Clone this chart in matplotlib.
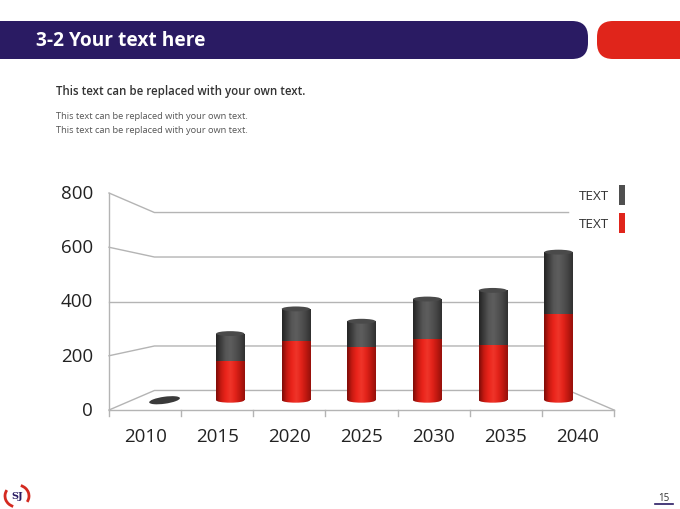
import matplotlib
matplotlib.use('Agg')
import matplotlib.pyplot as plt
import matplotlib.transforms as mtransforms
import numpy as np
from matplotlib.colors import LinearSegmentedColormap
from matplotlib.patches import Arc, Ellipse, FancyBboxPatch, Rectangle

plt.rcParams['font.family'] = ['Open Sans', 'DejaVu Sans']

years = ['2010', '2015', '2020', '2025', '2030', '2035', '2040']
red_vals = [0, 160, 240, 215, 250, 225, 350]
gray_vals = [0, 110, 130, 105, 160, 220, 250]
y_ticks = [0, 200, 400, 600, 800]
legend_labels = ['TEXT', 'TEXT']

NAVY = '#2a1b63'
RED = '#e0251b'
GRID = '#b4b4b4'

# one-point perspective: front plane scale 1, bars and back wall shrink toward VP
VP = (3.0, 400.0)
S_BACK = 0.82
S_BAR = 0.91


def proj(x, v, s):
    return VP[0] + s * (x - VP[0]), VP[1] + s * (v - VP[1])


red_cmap = LinearSegmentedColormap.from_list(
    'cyl_red', ['#7e0c08', '#c81a12', '#ea241b', '#f0352a', '#e2231a', '#c01810', '#96110b'])
gray_cmap = LinearSegmentedColormap.from_list(
    'cyl_gray', ['#242424', '#3d3d3d', '#565656', '#5e5e5e', '#525252', '#444444', '#303030'])
grad = np.linspace(0, 1, 64).reshape(1, -1)

fig = plt.figure(figsize=(6.8, 5.1), dpi=100)

# slide decoration in pixel coordinates
bg = fig.add_axes([0, 0, 1, 1])
bg.set_xlim(0, 680)
bg.set_ylim(510, 0)
bg.axis('off')
bg.add_patch(FancyBboxPatch((-40, 22), 628, 38, boxstyle='round,pad=0,rounding_size=16',
                            fc=NAVY, ec='none'))
bg.add_patch(FancyBboxPatch((597, 22), 120, 38, boxstyle='round,pad=0,rounding_size=16',
                            fc=RED, ec='none'))
bg.text(36, 41, '3-2 Your text here', color='white', fontsize=13.8, fontweight='bold',
        va='center', ha='left')
bg.text(56, 92, 'This text can be replaced with your own text.', color='#333333',
        fontsize=8.3, fontweight='semibold', va='center')
bg.text(56, 116.5, 'This text can be replaced with your own text.', color='#555555',
        fontsize=6.7, va='center')
bg.text(56, 131, 'This text can be replaced with your own text.', color='#555555',
        fontsize=6.7, va='center')
# footer
bg.add_patch(Arc((17, 497), 24, 22, theta1=110, theta2=210, color='#d42a20', lw=2))
bg.add_patch(Arc((17, 497), 24, 22, theta1=290, theta2=30, color='#d42a20', lw=2))
bg.text(17, 497, 'SJ', color=NAVY, fontsize=7, fontweight='bold', family='DejaVu Serif',
        ha='center', va='center')
bg.text(664, 499, '15', color='#333333', fontsize=7, ha='center', va='center')
bg.plot([655, 673], [505, 505], color=NAVY, lw=1.2)

# chart axes: data coords of the front plane
ax = fig.add_axes([109 / 680, 99 / 510, 505 / 680, 217 / 510])
ax.set_xlim(-0.5, 6.5)
ax.set_ylim(0, 800)
ax.axis('off')

x_lo, x_hi = -0.5, len(years) - 0.5
for v in y_ticks:
    bx0, by = proj(x_lo, v, S_BACK)
    bx1, _ = proj(x_hi, v, S_BACK)
    ax.plot([x_lo, bx0, bx1], [v, by, by], color=GRID, lw=1, clip_on=False, zorder=1)
    ax.text(x_lo - 0.22, v, str(v), ha='right', va='center', fontsize=13.5, color='#222222')
ax.plot([x_lo, x_lo], [0, 800], color=GRID, lw=1, clip_on=False, zorder=1)
ax.plot([x_lo, x_hi], [0, 0], color=GRID, lw=1, clip_on=False, zorder=1)
rx, ry = proj(x_hi, 0, S_BACK)
ax.plot([x_hi, rx], [0, ry], color=GRID, lw=1, clip_on=False, zorder=1)
for k in range(len(years) + 1):
    ax.plot([x_lo + k, x_lo + k], [0, -22], color=GRID, lw=1, clip_on=False, zorder=1)
for i, yr in enumerate(years):
    ax.text(i, -97, yr, ha='center', va='center', fontsize=13.5, color='#222222')

# cylinders
bar_w = 0.43 * S_BAR
ell_h = 18
base = proj(0, 0, S_BAR)[1]
centers = [proj(i, 0, S_BAR)[0] for i in range(len(years))]
red_h = [S_BAR * v for v in red_vals]
gray_h = [S_BAR * v for v in gray_vals]
red_bars = ax.bar(centers, red_h, bar_w, bottom=base, color='none', zorder=3)
gray_bars = ax.bar(centers, gray_h, bar_w, bottom=[base + h for h in red_h], color='none',
                   zorder=3)


def fill_gradient(patch, cmap, x0, x1, y0, y1, z):
    im = ax.imshow(grad, cmap=cmap, extent=[x0, x1, y0, y1], aspect='auto',
                   interpolation='bicubic', zorder=z)
    im.set_clip_path(patch)


for i, cx in enumerate(centers):
    total = red_h[i] + gray_h[i]
    if total == 0:
        tr = mtransforms.ScaledTranslation(cx, base, ax.transData)
        ax.add_patch(Ellipse((0, 0), 31, 7, angle=8, transform=tr, fc='#3a3a3a', ec='none',
                             zorder=3))
        continue
    x0, x1 = cx - bar_w / 2, cx + bar_w / 2
    bottom_ell = Ellipse((cx, base), bar_w, ell_h, fc='none', ec='none')
    ax.add_patch(bottom_ell)
    fill_gradient(bottom_ell, red_cmap, x0, x1, base - ell_h, base + ell_h, 2)
    rb = red_bars[i]
    fill_gradient(rb, red_cmap, x0, x1, base, base + red_h[i], 3)
    gb = gray_bars[i]
    fill_gradient(gb, gray_cmap, x0, x1, base + red_h[i], base + total, 3)
    ax.add_patch(Ellipse((cx, base + total), bar_w, ell_h, fc='#4a4a4a', ec='none', zorder=4))

ax.set_xlim(-0.5, 6.5)
ax.set_ylim(0, 800)

# legend
handles = [Rectangle((0, 0), 1, 1, fc='#4f4f4f', ec='none'),
           Rectangle((0, 0), 1, 1, fc='#e0251b', ec='none')]
fig.legend(handles, legend_labels, loc='upper right', bbox_to_anchor=(637 / 680, 1 - 174 / 510),
           frameon=False, markerfirst=False, handlelength=0.45, handleheight=1.9,
           handletextpad=0.7, labelspacing=0.6, fontsize=9.7, labelcolor='#333333')

fig.savefig('out.png', dpi=100)
